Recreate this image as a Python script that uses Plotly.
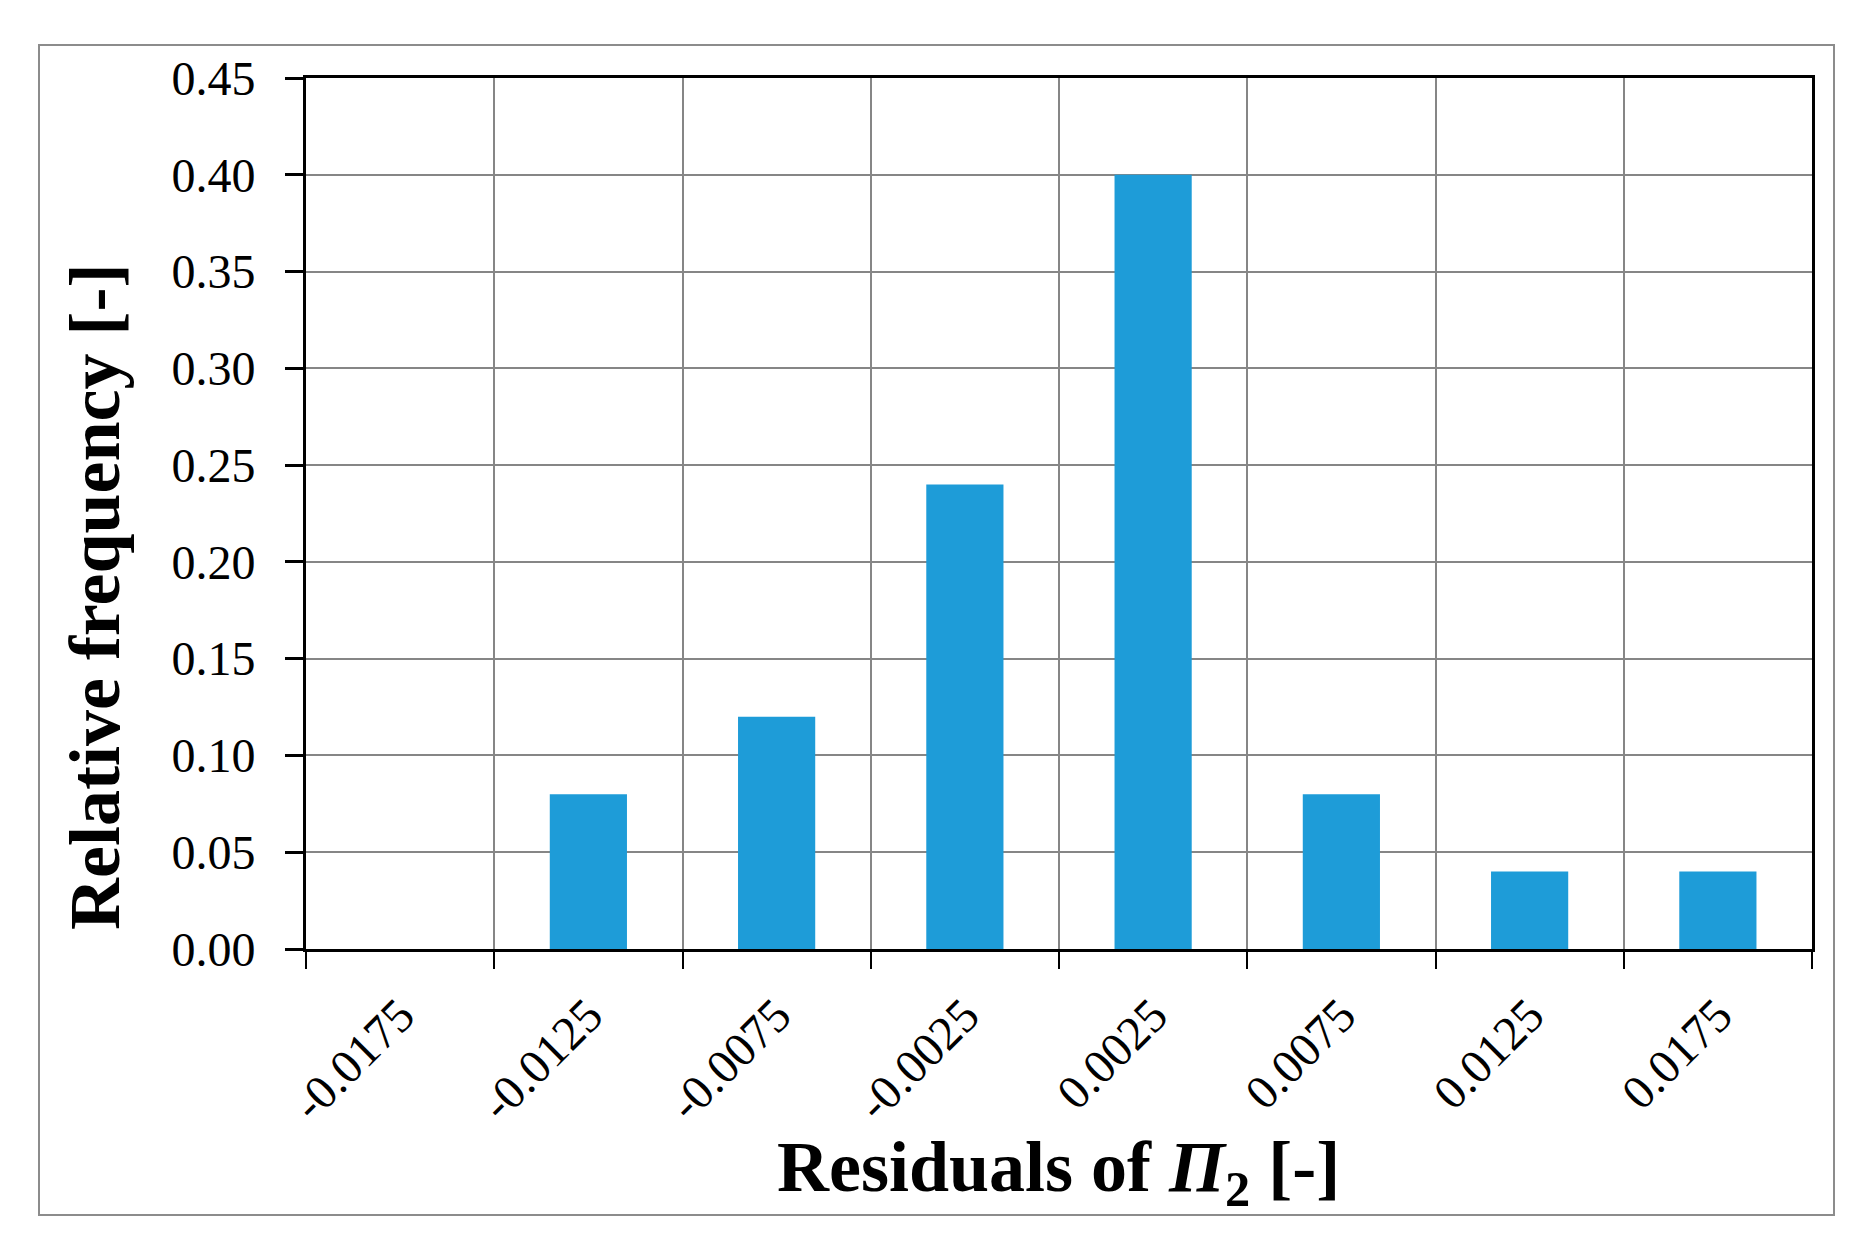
import plotly.graph_objects as go

categories = ["-0.0175", "-0.0125", "-0.0075", "-0.0025", "0.0025", "0.0075", "0.0125", "0.0175"]
rel_freq = [0.00, 0.08, 0.12, 0.24, 0.40, 0.08, 0.04, 0.04]
y_ticks = [0.00, 0.05, 0.10, 0.15, 0.20, 0.25, 0.30, 0.35, 0.40, 0.45]

OFF = 8  # default page body margin
W, H = 1862 - OFF, 1255 - OFF
# target plot area in page pixels: x 306..1812, y 78..949
L, T = 306 - OFF, 78 - OFF
R = (W + OFF) - 1812
B = (H + OFF) - 949
pw = W - L - R
ph = H - T - B


def px_x(x):
    return (x - 306) / pw


def px_y(y):
    return (949 - y) / ph


fig = go.Figure()
fig.add_trace(go.Bar(x=categories, y=rel_freq, marker=dict(color="#1E9CD8", line=dict(width=0)),
                     showlegend=False))

tick_font = dict(family="Liberation Serif", size=48, color="black")
title_font = dict(family="Liberation Serif", size=72, color="black")

fig.update_layout(
    width=W, height=H,
    margin=dict(l=L, r=R, t=T, b=B, autoexpand=False),
    paper_bgcolor="white", plot_bgcolor="white",
    bargap=0.59,
    xaxis=dict(
        type="category", tickson="boundaries", ticks="outside", ticklen=17, tickwidth=2, tickcolor="black",
        showgrid=True, gridcolor="#868686", gridwidth=2,
        showline=True, linecolor="black", linewidth=3, mirror=True,
        tickangle=-45, tickfont=tick_font, automargin=False, ticklabelstandoff=16,
    ),
    yaxis=dict(
        range=[0, 0.45], tickvals=y_ticks, tickformat=".2f",
        ticks="outside", ticklen=18, tickwidth=3, tickcolor="black",
        showgrid=True, gridcolor="#868686", gridwidth=2,
        showline=True, linecolor="black", linewidth=3, mirror=True,
        tickfont=tick_font, automargin=False, zeroline=False, ticklabelstandoff=20,
    ),
)

# outer frame
fig.add_shape(type="rect", xref="paper", yref="paper",
              x0=px_x(39), x1=px_x(1834), y0=px_y(1215), y1=px_y(45),
              line=dict(color="#8C8C8C", width=2), fillcolor="rgba(0,0,0,0)", layer="below")

fig.add_annotation(text="<b>Residuals of <i>Π</i><sub>2</sub> [-]</b>", xref="paper", yref="paper",
                   x=px_x(1058), y=px_y(1172), xanchor="center", yanchor="middle",
                   showarrow=False, font=title_font)
fig.add_annotation(text="<b>Relative frequency [-]</b>", xref="paper", yref="paper",
                   x=px_x(95), y=px_y(597), xanchor="center", yanchor="middle",
                   textangle=-90, showarrow=False, font=title_font)

fig.write_html("out.html")
